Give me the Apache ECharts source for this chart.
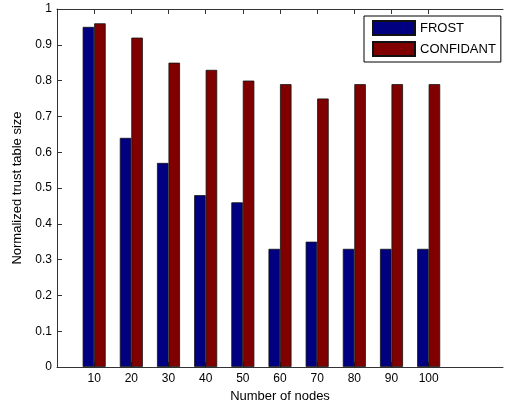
<!DOCTYPE html>
<html>
<head>
<meta charset="utf-8">
<script src="https://cdn.jsdelivr.net/npm/echarts@6/dist/echarts.min.js"></script>
<style>
  html, body { margin: 0; padding: 0; background: #fff; }
  #chart { width: 506px; height: 408px; }
</style>
</head>
<body>
<div id="chart"></div>
<script>
// data
var nodes = ['10', '20', '30', '40', '50', '60', '70', '80', '90', '100'];
var frost = [0.95, 0.64, 0.57, 0.48, 0.46, 0.33, 0.35, 0.33, 0.33, 0.33];
var confidant = [0.96, 0.92, 0.85, 0.83, 0.80, 0.79, 0.75, 0.79, 0.79, 0.79];

// matlab style xlim [0 12]: one empty slot before, two after
var xData = [''].concat(nodes, ['', '']);
function pad(arr) { return ['-'].concat(arr, ['-', '-']); }
function isNode(i) { return i >= 1 && i <= nodes.length; }

var font = 'Liberation Sans, Arial, sans-serif';
var myChart = echarts.init(document.getElementById('chart'));

myChart.setOption({
    animation: false,
    grid: {
        left: 57,
        right: -6,
        top: 9,
        bottom: 40
    },
    legend: {
        data: ['FROST', 'CONFIDANT'],
        orient: 'vertical',
        left: 364,
        top: 16,
        icon: 'rect',
        itemWidth: 42,
        itemHeight: 14,
        itemGap: 5,
        padding: [4, 5, 5, 8],
        borderColor: '#000',
        borderWidth: 1,
        backgroundColor: '#fff',
        textStyle: { fontFamily: font, fontSize: 13, color: '#000' }
    },
    xAxis: [
        {
            type: 'category',
            data: xData,
            boundaryGap: false,
            name: 'Number of nodes',
            nameLocation: 'middle',
            nameGap: 23,
            nameTextStyle: { fontFamily: font, fontSize: 13, color: '#000' },
            axisLine: { lineStyle: { color: '#333', width: 1 } },
            axisTick: {
                inside: true,
                length: 5,
                interval: function (i) { return isNode(i); },
                lineStyle: { color: '#333' }
            },
            axisLabel: {
                interval: 0,
                margin: 6,
                fontFamily: font,
                fontSize: 12,
                color: '#000'
            },
            splitLine: { show: false }
        },
        {
            type: 'category',
            data: xData,
            boundaryGap: false,
            position: 'top',
            axisLine: { lineStyle: { color: '#333', width: 1 } },
            axisTick: {
                inside: true,
                length: 5,
                interval: function (i) { return isNode(i); },
                lineStyle: { color: '#333' }
            },
            axisLabel: { show: false },
            splitLine: { show: false }
        }
    ],
    yAxis: {
        type: 'value',
        min: 0,
        max: 1,
        interval: 0.1,
        name: 'Normalized trust table size',
        nameLocation: 'middle',
        nameGap: 33,
        nameTextStyle: { fontFamily: font, fontSize: 13, color: '#000' },
        axisLine: { show: true, lineStyle: { color: '#333', width: 1 } },
        axisTick: { show: true, inside: true, length: 5, lineStyle: { color: '#333' } },
        axisLabel: {
            margin: 5,
            fontFamily: font,
            fontSize: 12,
            color: '#000',
            formatter: function (v) { return String(+v.toFixed(1)); }
        },
        splitLine: { show: false }
    },
    series: [
        {
            name: 'FROST',
            type: 'bar',
            data: pad(frost),
            barWidth: 11.5,
            barGap: '0%',
            itemStyle: { color: '#000080', borderColor: '#111', borderWidth: 0.8 }
        },
        {
            name: 'CONFIDANT',
            type: 'bar',
            data: pad(confidant),
            barWidth: 11.5,
            barGap: '0%',
            itemStyle: { color: '#800000', borderColor: '#111', borderWidth: 0.8 }
        }
    ]
});
</script>
</body>
</html>
